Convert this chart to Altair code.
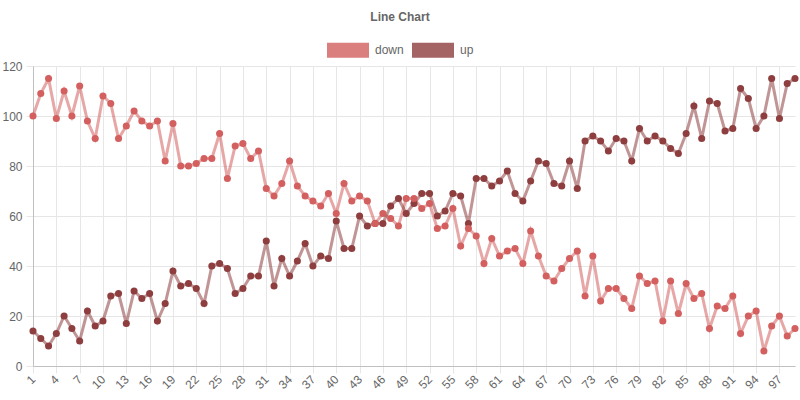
import altair as alt
import pandas as pd

x_values = list(range(1, 100))
tick_values = list(range(1, 100, 3))

down = [100, 109, 115, 99, 110, 100, 112, 98, 91, 108,
        105, 91, 96, 102, 98, 96, 98, 82, 97, 80,
        80, 81, 83, 83, 93, 75, 88, 89, 83, 86,
        71, 68, 73, 82, 72, 68, 66, 64, 69, 61,
        73, 66, 68, 66, 57, 61, 59, 56, 67, 67,
        63, 65, 55, 56, 63, 48, 55, 52, 41, 51,
        44, 46, 47, 41, 54, 44, 36, 34, 39, 43,
        46, 28, 44, 26, 31, 31, 27, 23, 36, 33,
        34, 18, 34, 21, 33, 27, 29, 15, 24, 23,
        28, 13, 20, 22, 6, 16, 20, 12, 15]

up = [14, 11, 8, 13, 20, 15, 10, 22, 16, 18,
      28, 29, 17, 30, 27, 29, 18, 25, 38, 32,
      33, 31, 25, 40, 41, 39, 29, 31, 36, 36,
      50, 32, 43, 36, 42, 49, 40, 44, 43, 58,
      47, 47, 60, 56, 57, 57, 64, 67, 61, 65,
      69, 69, 60, 62, 69, 68, 57, 75, 75, 72,
      74, 78, 69, 66, 74, 82, 81, 73, 72, 82,
      71, 90, 92, 90, 86, 91, 90, 82, 95, 90,
      92, 90, 87, 85, 93, 104, 91, 106, 105, 94,
      95, 111, 107, 95, 100, 115, 99, 113, 115]

series_names = ["down", "up"]
series_colors = ["#d35f5f", "#8e3e3e"]

df = pd.DataFrame({
    "x": x_values * 2,
    "value": down + up,
    "series": ["down"] * len(down) + ["up"] * len(up),
    "order": [1] * len(down) + [0] * len(up),
})

FONT = "Liberation Sans"
color_scale = alt.Scale(domain=series_names, range=series_colors)
box = "M-1,-0.325L1,-0.325L1,0.325L-1,0.325Z"

x_enc = alt.X("x:Q", scale=alt.Scale(domain=[1, 99], nice=False, zero=False),
              axis=alt.Axis(values=tick_values, title=None, labelAngle=-45,
                            labelAlign="right", labelBaseline="middle",
                            labelPadding=4, tickSize=7, labelFontSize=12,
                            labelColor="#666666", labelFont=FONT,
                            gridColor="#e6e6e6", tickColor="#e6e6e6",
                            domainColor="#c0c0c0", labelOverlap=False))
y_enc = alt.Y("value:Q", scale=alt.Scale(domain=[0, 120], nice=False),
              axis=alt.Axis(values=[0, 20, 40, 60, 80, 100, 120], title=None,
                            tickSize=7, labelPadding=4, labelFontSize=12,
                            labelColor="#666666", labelFont=FONT,
                            gridColor="#e6e6e6", tickColor="#e6e6e6",
                            domainColor="#c0c0c0"))

legend = alt.Legend(title=None, orient="none", direction="horizontal",
                    legendX=294, legendY=-37, symbolType=box, symbolSize=1600,
                    symbolStrokeWidth=2, symbolOpacity=0.8, labelFontSize=12,
                    labelColor="#666666", labelFont=FONT, labelOffset=6,
                    columnPadding=5, padding=0)

lines = alt.Chart(df).mark_line(strokeWidth=3, opacity=0.55).encode(
    x=x_enc, y=y_enc,
    color=alt.Color("series:N", scale=color_scale, legend=legend),
    detail="series:N",
    order=alt.Order("x:Q"),
)

points = alt.Chart(df).mark_circle(size=50, opacity=1).encode(
    x=x_enc, y=y_enc,
    color=alt.Color("series:N", scale=color_scale, legend=legend),
    order=alt.Order("order:Q"),
)

chart = alt.layer(lines, points).properties(
    width=762, height=300,
    title=alt.TitleParams("Line Chart", fontSize=12, font=FONT, fontWeight="bold",
                          color="#666666", anchor="middle", dx=-14, offset=5),
    autosize=alt.AutoSizeParams(type="none"),
    padding={"left": 33, "top": 66, "right": 5, "bottom": 34},
).configure_view(stroke=None).configure_axis(gridOpacity=1)

chart.save("out.html", embed_options={"renderer": "svg", "actions": False})
